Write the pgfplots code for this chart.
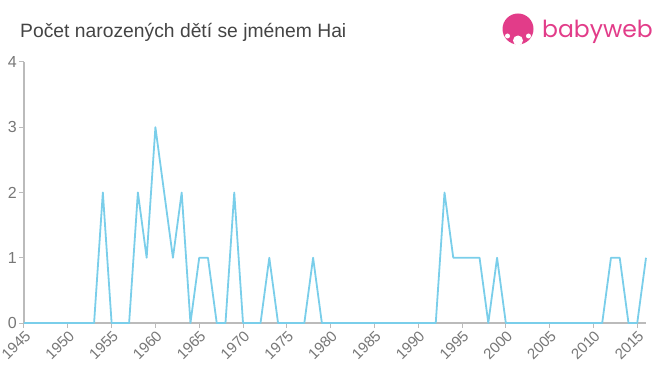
\documentclass[border=0pt]{standalone}
\usepackage{pgfplots}
\pgfplotsset{compat=1.18}
\usepackage{fontspec}
\setmainfont{Liberation Sans}
\newfontfamily\logofont{Poppins}
\definecolor{linec}{RGB}{122,206,234}
\definecolor{axisc}{RGB}{187,187,187}
\definecolor{tickc}{RGB}{119,119,119}
\definecolor{titlec}{RGB}{68,68,68}
\definecolor{pinkc}{RGB}{226,60,137}
\begin{document}
\begin{tikzpicture}[x=1pt,y=1pt]
\useasboundingbox (0,0) rectangle (660,375);
\node[anchor=base west, inner sep=0, text=titlec, font=\fontsize{19.3}{22}\selectfont] at (20,337.3) {Počet narozených dětí se jménem Hai};
% logo
\fill[pinkc] (518,346) circle (15.5);
\fill[white] (518,334.5) circle (5);
\fill[white] (507.5,339) circle (2.5);
\fill[white] (528.5,339) circle (2.5);
\node[anchor=base west, inner sep=0, text=pinkc, font=\logofont\fontsize{23.5}{26}\selectfont] at (542,337) {babyweb};
\begin{axis}[
  at={(24pt,52pt)}, anchor=south west,
  scale only axis, width=622pt, height=261pt,
  xmin=1945, xmax=2016, ymin=0, ymax=4,
  axis x line*=bottom, axis y line*=left,
  axis line style={axisc, line width=1.2pt, -},
  xtick={1945,1950,...,2015}, ytick={0,1,2,3,4},
  tick style={axisc, line width=1pt},
  tick align=outside, major tick length=5pt,
  xticklabel style={rotate=45, anchor=north east, text=tickc, font=\fontsize{15}{17}\selectfont, inner sep=1pt},
  yticklabel style={text=tickc, font=\fontsize{16}{18}\selectfont, inner sep=2pt},
  /pgf/number format/1000 sep={},
  /pgf/number format/assume math mode=true,
  clip=false,
]
\addplot[linec, line width=1.8pt, line join=round] coordinates {
(1945,0)(1946,0)(1947,0)(1948,0)(1949,0)(1950,0)(1951,0)(1952,0)(1953,0)
(1954,2)(1955,0)(1956,0)(1957,0)(1958,2)(1959,1)(1960,3)(1961,2)(1962,1)
(1963,2)(1964,0)(1965,1)(1966,1)(1967,0)(1968,0)(1969,2)(1970,0)(1971,0)
(1972,0)(1973,1)(1974,0)(1975,0)(1976,0)(1977,0)(1978,1)(1979,0)(1980,0)
(1981,0)(1982,0)(1983,0)(1984,0)(1985,0)(1986,0)(1987,0)(1988,0)(1989,0)
(1990,0)(1991,0)(1992,0)(1993,2)(1994,1)(1995,1)(1996,1)(1997,1)(1998,0)
(1999,1)(2000,0)(2001,0)(2002,0)(2003,0)(2004,0)(2005,0)(2006,0)(2007,0)
(2008,0)(2009,0)(2010,0)(2011,0)(2012,1)(2013,1)(2014,0)(2015,0)(2016,1)
};
\end{axis}
\end{tikzpicture}
\end{document}
